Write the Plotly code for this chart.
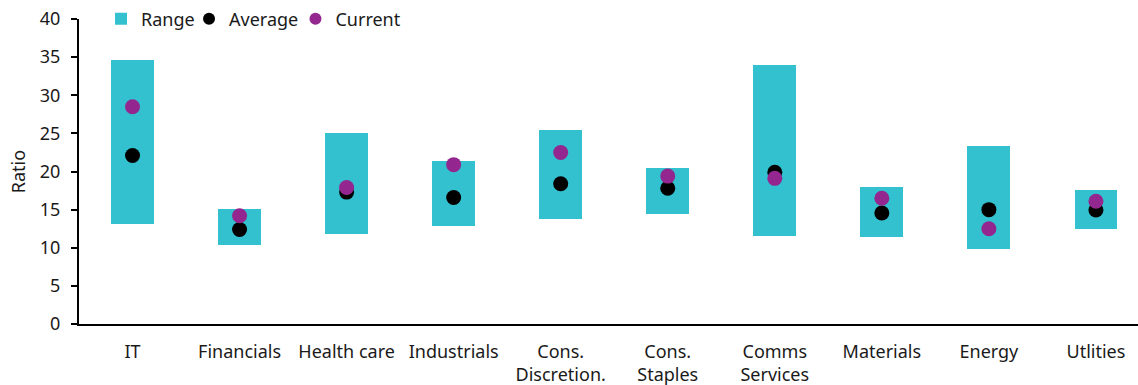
import plotly.graph_objects as go

# Sector valuation ratios: historical range, long-run average and current level
sectors = ["IT", "Financials", "Health care", "Industrials", "Cons.<br>Discretion.",
           "Cons.<br>Staples", "Comms<br>Services", "Materials", "Energy", "Utlities"]
range_low = [13.1, 10.3, 11.8, 12.85, 13.75, 14.4, 11.6, 11.4, 9.8, 12.4]
range_high = [34.6, 15.1, 25.0, 21.4, 25.4, 20.45, 34.0, 18.0, 23.3, 17.55]
average = [22.1, 12.4, 17.3, 16.6, 18.4, 17.8, 19.9, 14.55, 15.0, 14.95]
current = [28.5, 14.2, 17.9, 20.9, 22.5, 19.4, 19.1, 16.5, 12.5, 16.1]

TEAL = "#33C0CF"
PURPLE = "#93278F"
FONT = "Noto Sans"
FS = 18

fig = go.Figure()
fig.add_trace(go.Bar(
    x=sectors, y=[h - l for h, l in zip(range_high, range_low)], base=range_low,
    name="Range", marker=dict(color=TEAL, line=dict(width=0)), width=0.4,
    legend="legend",
))
fig.add_trace(go.Scatter(
    x=sectors, y=average, mode="markers", name="Average",
    marker=dict(color="black", size=15), legend="legend2",
))
fig.add_trace(go.Scatter(
    x=sectors, y=current, mode="markers", name="Current",
    marker=dict(color=PURPLE, size=15), legend="legend3",
))

# one legend box per series so the entries sit close together in a row
legend_style = dict(orientation="h", xanchor="left", y=1.0, yanchor="middle",
                    itemsizing="constant", font=dict(size=FS),
                    bgcolor="rgba(0,0,0,0)", itemwidth=30)

fig.update_layout(
    width=1138, height=385,
    margin=dict(l=79, r=0, t=19, b=61),
    paper_bgcolor="white", plot_bgcolor="white",
    font=dict(family=FONT, size=FS, color="#1a1a1a"),
    showlegend=True,
    legend=dict(x=0.0208, **legend_style),
    legend2=dict(x=0.1039, **legend_style),
    legend3=dict(x=0.2044, **legend_style),
    bargap=0,
)
fig.update_xaxes(
    type="category", range=[-0.5, 9.393],
    showline=True, linecolor="black", linewidth=2,
    ticks="", showgrid=False, tickfont=dict(size=FS),
    ticklabelstandoff=10,
)
fig.update_yaxes(
    range=[0, 40], dtick=5, showgrid=False, zeroline=False,
    showline=True, linecolor="black", linewidth=2,
    ticks="outside", ticklen=6, tickcolor="black", tickwidth=2,
    title=dict(text="Ratio", font=dict(size=FS), standoff=10),
    tickfont=dict(size=FS), ticklabelstandoff=7,
)

fig.write_html("out.html")
